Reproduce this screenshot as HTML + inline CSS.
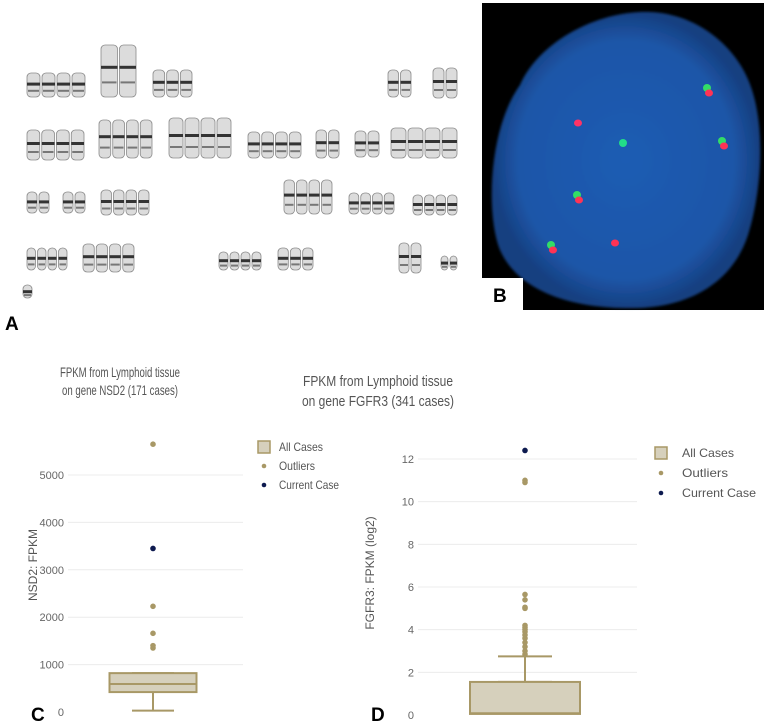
<!DOCTYPE html>
<html><head><meta charset="utf-8">
<style>
html,body{margin:0;padding:0;background:#fff;}
body{width:764px;height:724px;position:relative;overflow:hidden;font-family:"Liberation Sans",sans-serif;}
svg{position:absolute;left:0;top:0;}
</style></head>
<body>
<svg id="fig" width="764" height="724" viewBox="0 0 764 724">
  <defs>
    <radialGradient id="nuc" cx="50%" cy="50%" r="50%">
      <stop offset="0%" stop-color="#1e5cb3"/>
      <stop offset="80%" stop-color="#1d56a8"/>
      <stop offset="100%" stop-color="#163f80"/>
    </radialGradient>
    <filter id="blur"><feGaussianBlur stdDeviation="1.2"/></filter>
  </defs>
  <g id="karyo"></g>
  <text x="5" y="330" font-size="19" font-weight="bold" fill="#000">A</text>

  <g>
    <rect x="482" y="3" width="282" height="307" fill="#000"/>
    <path d="M520,85 C540,40 600,10 650,12 C700,14 740,50 752,90 C765,130 762,190 748,235 C735,275 700,305 640,308 C580,310 520,295 500,250 C486,215 488,130 520,85 Z" fill="url(#nuc)" filter="url(#blur)"/>
    <g id="signals"></g>
    <rect x="482" y="278" width="41" height="32" fill="#fff"/>
    <text x="493" y="302" font-size="19" font-weight="bold" fill="#000">B</text>
  </g>

  <g id="chartC"></g>
  <g id="chartD"></g>
  <text x="31" y="721" font-size="19" font-weight="bold" fill="#000">C</text>
  <text x="371" y="721" font-size="19" font-weight="bold" fill="#000">D</text>
</svg>
<script>
var NS="http://www.w3.org/2000/svg";
function mk(tag,attrs,parent){var e=document.createElementNS(NS,tag);for(var k in attrs)e.setAttribute(k,attrs[k]);parent.appendChild(e);return e;}

// ---- Chart C data ----
var cTicks=[0,1000,2000,3000,4000,5000];
var cBox=[420,590,820]; // q1, median, q3
var cWhisker=[30,820];
var cOutliers=[5650,2230,1660,1400,1350];
var cCurrent=[3450];
// ---- Chart D data ----
var dTicks=[0,2,4,6,8,10,12];
var dBox=[0.05,0.08,1.55];
var dWhisker=[1.55,2.75];
var dOutliers=[11.0,10.9,5.65,5.4,5.05,5.0,4.2,4.1,4.0,3.9,3.75,3.6,3.4,3.2,3.0,2.85];
var dCurrent=[12.4];

function boxChart(g,cfg){
  function y(v){return cfg.y0-(v-cfg.vmin)/(cfg.vmax-cfg.vmin)*(cfg.y0-cfg.y1);}
  cfg.ticks.forEach(function(t){
    if(t!==cfg.ticks[0]){var l=mk('line',{x1:cfg.px0,x2:cfg.px1,y1:y(t),y2:y(t),stroke:'#ececec','stroke-width':1},g);
    
    }
    var tx=mk('text',{x:cfg.px0-4,y:y(t)+4,'font-size':11,fill:'#666','text-anchor':'end'},g);
    tx.textContent=t;
    
    
  });
  var c=cfg.cx,hw=cfg.bw/2,cw=cfg.cw/2,col='#a89866';
  var wl=mk('line',{x1:c,x2:c,y1:y(cfg.wh[0]),y2:y(cfg.box[0]),stroke:col,'stroke-width':2},g);
  
  
  var wu=mk('line',{x1:c,x2:c,y1:y(cfg.box[2]),y2:y(cfg.wh[1]),stroke:col,'stroke-width':2},g);
  
  
  var capL=mk('line',{x1:c-cw,x2:c+cw,y1:y(cfg.wh[0]),y2:y(cfg.wh[0]),stroke:col,'stroke-width':2},g);
  
  
  var capH=mk('line',{x1:c-cw,x2:c+cw,y1:y(cfg.wh[1]),y2:y(cfg.wh[1]),stroke:col,'stroke-width':2},g);
  
  
  var r=mk('rect',{x:c-hw,y:y(cfg.box[2]),width:cfg.bw,height:y(cfg.box[0])-y(cfg.box[2]),fill:'#d6d0bc',stroke:col,'stroke-width':2},g);
  
  
  var m=mk('line',{x1:c-hw,x2:c+hw,y1:y(cfg.box[1]),y2:y(cfg.box[1]),stroke:col,'stroke-width':2},g);
  
  
  cfg.out.forEach(function(v){
    var p=mk('circle',{cx:c,cy:y(v),r:2.8,fill:'#a89866'},g);
    
    
  });
  cfg.cur.forEach(function(v){
    var p=mk('circle',{cx:c,cy:y(v),r:2.8,fill:'#0d1a4f'},g);
    
    
  });
  cfg.title.forEach(function(s,i){
    var t=mk('text',{x:cfg.tx,y:cfg.ty+i*cfg.tls,'font-size':cfg.tfs,fill:'#555','text-anchor':'middle','textLength':cfg.tlen[i],'lengthAdjust':'spacingAndGlyphs'},g);
    t.textContent=s;
    
    
  });
  var at=mk('text',{x:0,y:0,'font-size':12,fill:'#555','text-anchor':'middle',transform:'translate('+cfg.ax+','+cfg.ay+') rotate(-90)'},g);
  at.textContent=cfg.axis;
  
  
  var L=cfg.leg;
  var lb=mk('rect',{x:L.x,y:L.y-6,width:L.s,height:L.s,fill:'#d6d0bc',stroke:col,'stroke-width':1.5},g);
  
  
  var lo=mk('circle',{cx:L.x+L.s/2,cy:L.y+L.dy,r:2.3,fill:'#a89866'},g);
  
  
  var lc=mk('circle',{cx:L.x+L.s/2,cy:L.y+2*L.dy,r:2.3,fill:'#0d1a4f'},g);
  
  
  ['All Cases','Outliers','Current Case'].forEach(function(s,i){
    var t=mk('text',{x:L.tx,y:L.y+4+i*L.dy,'font-size':L.fs,fill:'#555','textLength':L.len[i],'lengthAdjust':'spacingAndGlyphs'},g);
    t.textContent=s;
    
    
  });
}

boxChart(document.getElementById('chartC'),{vmin:0,vmax:5000,y0:712,y1:475,px0:68,px1:243,ticks:cTicks,box:cBox,wh:cWhisker,out:cOutliers,cur:cCurrent,
  cx:153,bw:87,cw:42,title:['FPKM from Lymphoid tissue','on gene NSD2 (171 cases)'],tx:120,ty:377,tls:18,tfs:14,tlen:[120,116],
  axis:'NSD2: FPKM',ax:37,ay:565,leg:{x:258,y:447,s:12,dy:19,tx:279,fs:12,len:[44,36,60]}});
boxChart(document.getElementById('chartD'),{vmin:0,vmax:12,y0:715,y1:459,px0:418,px1:637,ticks:dTicks,box:dBox,wh:dWhisker,out:dOutliers,cur:dCurrent,
  cx:525,bw:110,cw:54,title:['FPKM from Lymphoid tissue','on gene FGFR3 (341 cases)'],tx:378,ty:386,tls:20,tfs:15,tlen:[150,152],
  axis:'FGFR3: FPKM (log2)',ax:374,ay:573,leg:{x:655,y:453,s:12,dy:20,tx:682,fs:12,len:[52,46,74]}});

// ---- karyotype (illustrative) ----
var kg=document.getElementById('karyo');
var groups=[
 [26,73,60,4,24],[100,45,37,2,52],[152,70,41,3,27],[387,70,25,2,27],[432,68,26,2,30],
 [26,130,59,4,30],[98,120,55,4,38],[168,118,64,4,40],[247,132,55,4,26],[315,130,25,2,28],[354,131,26,2,26],[390,128,68,4,30],
 [26,192,24,2,21],[62,192,24,2,21],[100,190,50,4,25],[283,180,50,4,34],[348,193,47,4,21],[412,195,46,4,20],
 [26,248,42,4,22],[82,244,53,4,28],[218,252,44,4,18],[277,248,37,3,22],[398,243,24,2,30],[440,256,18,2,14],[22,285,11,1,13]
];
groups.forEach(function(gp){
  var w=gp[2]/gp[3];
  for(var i=0;i<gp[3];i++){
    var r=mk('rect',{x:gp[0]+i*w+1,y:gp[1],width:w-2,height:gp[4],rx:4,fill:'#dcdcdc',stroke:'#8a8a8a','stroke-width':0.8},kg);
    
    
    var b=mk('rect',{x:gp[0]+i*w+1,y:gp[1]+gp[4]*0.4,width:w-2,height:3,fill:'#333'},kg);
    
    
    var b2=mk('rect',{x:gp[0]+i*w+2,y:gp[1]+gp[4]*0.7,width:w-4,height:2,fill:'#777'},kg);
    
    
  }
});

// ---- FISH signals ----
var sg=document.getElementById('signals');
var sigs=[[707,90,'#33dd66','#ff3355'],[722,143,'#33dd66','#ff3355'],[623,145,'#22dd88',null],[578,123,null,'#ff3366'],[577,197,'#33dd66','#ff3355'],[551,247,'#33dd66','#ff3355'],[615,243,null,'#ff3355']];
sigs.forEach(function(s){
  if(s[2]){var c=mk('circle',{cx:s[0],cy:s[1]-2,r:4,fill:s[2]},sg);
    
    }
  if(s[3]){var d=mk('ellipse',{cx:s[0]+(s[2]?2:0),cy:s[1]+(s[2]?3:0),rx:4,ry:3.5,fill:s[3]},sg);
    
    }
});
</script>
</body></html>
